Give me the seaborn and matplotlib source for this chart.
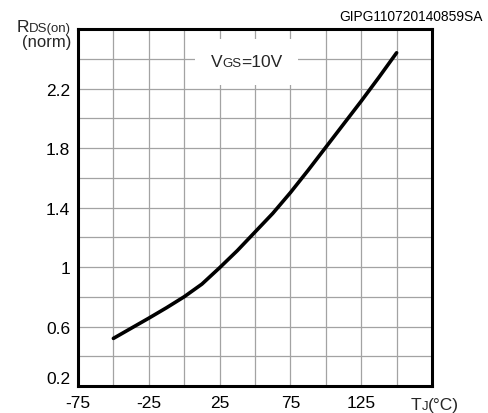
import matplotlib
matplotlib.use("Agg")
import matplotlib.pyplot as plt
import seaborn as sns
from matplotlib.offsetbox import TextArea, HPacker, VPacker, AnnotationBbox

# normalized on-resistance vs junction temperature
tj = [-50, -37.5, -25, -12.5, 0, 12.5, 25, 37.5, 50, 62.5, 75, 87.5, 100, 112.5, 125, 137.5, 150]
rds_norm = [0.52, 0.588, 0.656, 0.726, 0.80, 0.885, 0.995, 1.11, 1.235, 1.36, 1.50, 1.65,
            1.805, 1.96, 2.115, 2.275, 2.44]

x_ticks = [-75, -50, -25, 0, 25, 50, 75, 100, 125, 150, 175]
x_labels = ["-75", "", "-25", "", "25", "", "75", "", "125", "", ""]
y_ticks = [0.2, 0.4, 0.6, 0.8, 1.0, 1.2, 1.4, 1.6, 1.8, 2.0, 2.2, 2.4, 2.6]
y_labels = ["0.2", "", "0.6", "", "1", "", "1.4", "", "1.8", "", "2.2", "", ""]

sns.set_theme(style="white")
plt.rcParams['font.family'] = ['Liberation Sans', 'DejaVu Sans']

big = 12.5
small = 9.5

fig = plt.figure(figsize=(4.89, 4.14), dpi=100)
ax = fig.add_axes([78 / 489, 1 - 387 / 414, (432 - 78) / 489, (387 - 30) / 414])

sns.lineplot(x=tj, y=rds_norm, color="black", linewidth=2.6, ax=ax, zorder=4)

ax.set_xlim(-75, 175)
ax.set_ylim(0.2, 2.6)
ax.set_xticks(x_ticks)
ax.set_xticklabels(x_labels)
ax.set_yticks(y_ticks)
ax.set_yticklabels(y_labels)
ax.tick_params(axis="both", length=0, labelsize=big, colors="black")
ax.tick_params(axis="x", pad=6.5)
ax.tick_params(axis="y", pad=5.5)
ax.set_axisbelow(True)
ax.grid(True, color="#a3a3a3", linewidth=0.9)
for s in ax.spines.values():
    s.set_color("black")
    s.set_linewidth(2.2)
ax.set_xlabel("")
ax.set_ylabel("")

# the lowest y label sits above its gridline
ax.yaxis.get_major_ticks()[0].label1.set_verticalalignment("bottom")

# V_GS box
vgs = HPacker(children=[TextArea("V", textprops=dict(size=big)),
                        TextArea("GS", textprops=dict(size=small)),
                        TextArea("=10V", textprops=dict(size=big))],
              align="baseline", pad=0, sep=0)
ab = AnnotationBbox(vgs, (44, 2.38), xycoords="data", frameon=True, pad=1.0,
                    bboxprops=dict(facecolor="white", edgecolor="none"), zorder=3)
ax.add_artist(ab)

# y axis title
rds = HPacker(children=[TextArea("R", textprops=dict(size=big)),
                        TextArea("DS(on)", textprops=dict(size=small))],
              align="baseline", pad=0, sep=0)
ylab = VPacker(children=[rds, TextArea("(norm)", textprops=dict(size=big - 0.5))],
               align="right", pad=0, sep=0)
fig.add_artist(AnnotationBbox(ylab, (71 / 489, 1 - 20 / 414), xycoords="figure fraction",
                              box_alignment=(1, 1), frameon=False, pad=0))

# x axis title
tjl = HPacker(children=[TextArea("T", textprops=dict(size=big)),
                        TextArea("J", textprops=dict(size=small)),
                        TextArea("(°C)", textprops=dict(size=big))],
              align="baseline", pad=0, sep=0)
fig.add_artist(AnnotationBbox(tjl, (411 / 489, 1 / 414), xycoords="figure fraction",
                              box_alignment=(0, 0), frameon=False, pad=0))

fig.text(483 / 489, 1 - 21 / 414, "GIPG110720140859SA", ha="right", va="baseline",
         fontsize=9.9, color="black")

fig.savefig("out.png", dpi=100)
